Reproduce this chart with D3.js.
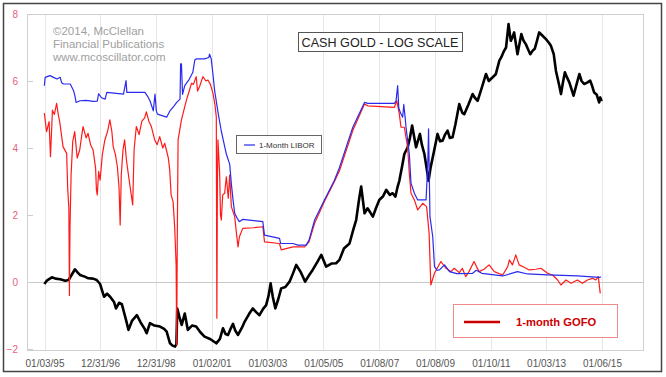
<!DOCTYPE html>
<html>
<head>
<meta charset="utf-8">
<script src="https://cdn.jsdelivr.net/npm/d3@7"></script>
<style>
  body { margin: 0; background: #fff; }
  text { font-family: "Liberation Sans", Arial, sans-serif; }
</style>
</head>
<body>
<div id="chart"></div>
<script>
// tick labels on the x axis (trading dates)
const xTickDates = ['1995-01-03', '1996-12-31', '1998-12-31', '2001-01-02', '2003-01-03',
  '2005-01-05', '2007-01-08', '2009-01-08', '2011-01-10', '2013-01-03', '2015-01-06'];
const yTicks = [-2, 0, 2, 4, 6, 8];

// [decimal year, value]
const goldLog = [
  [1995.00, -0.06], [1995.10, 0.05], [1995.27, 0.14], [1995.40, 0.10], [1995.57, 0.08],
  [1995.75, 0.04], [1995.87, 0.06], [1996.10, 0.38], [1996.20, 0.28], [1996.28, 0.21],
  [1996.45, 0.16], [1996.58, 0.11], [1996.75, 0.10], [1996.88, 0.06], [1997.00, -0.06],
  [1997.14, -0.44], [1997.25, -0.35], [1997.36, -0.44], [1997.50, -0.60], [1997.57, -0.79],
  [1997.68, -0.62], [1997.78, -0.66], [1997.92, -1.10], [1998.02, -1.43], [1998.15, -1.15],
  [1998.32, -0.99], [1998.45, -1.20], [1998.60, -1.40], [1998.67, -1.53], [1998.79, -1.23],
  [1998.95, -1.30], [1999.15, -1.33], [1999.30, -1.40], [1999.39, -1.48], [1999.51, -1.83],
  [1999.60, -1.90], [1999.69, -1.93], [1999.74, -1.85], [1999.77, -0.79], [1999.85, -1.05],
  [1999.93, -1.28], [2000.04, -0.94], [2000.15, -1.43], [2000.30, -1.30], [2000.45, -1.33],
  [2000.60, -1.50], [2000.75, -1.63], [2000.95, -1.70], [2001.17, -1.83], [2001.30, -1.70],
  [2001.41, -1.38], [2001.50, -1.55], [2001.59, -1.58], [2001.68, -1.40], [2001.77, -1.25],
  [2001.85, -1.45], [2001.95, -1.58], [2002.10, -1.35], [2002.19, -1.18], [2002.35, -0.95],
  [2002.48, -0.79], [2002.60, -0.90], [2002.72, -0.99], [2002.85, -0.80], [2002.96, -0.69],
  [2003.05, -0.40], [2003.12, -0.04], [2003.20, -0.45], [2003.29, -0.79], [2003.40, -0.50],
  [2003.50, -0.19], [2003.65, -0.15], [2003.80, 0.01], [2003.92, 0.25], [2004.04, 0.51],
  [2004.20, 0.30], [2004.36, 0.01], [2004.50, 0.20], [2004.63, 0.36], [2004.80, 0.60],
  [2004.94, 0.81], [2005.11, 0.46], [2005.30, 0.55], [2005.47, 0.56], [2005.59, 0.66],
  [2005.75, 1.00], [2005.95, 1.15], [2006.10, 1.60], [2006.19, 1.85], [2006.30, 2.50],
  [2006.37, 2.85], [2006.49, 2.05], [2006.60, 2.20], [2006.79, 1.95], [2006.90, 2.20],
  [2007.02, 2.45], [2007.15, 2.55], [2007.27, 2.75], [2007.40, 2.60], [2007.50, 2.65],
  [2007.60, 2.55], [2007.68, 2.85], [2007.74, 3.02], [2007.85, 3.50], [2007.92, 3.82],
  [2008.04, 4.02], [2008.12, 4.30], [2008.20, 4.67], [2008.34, 4.02], [2008.48, 4.42],
  [2008.55, 4.10], [2008.64, 3.82], [2008.72, 3.40], [2008.79, 3.02], [2008.86, 3.40],
  [2008.94, 3.72], [2009.11, 4.42], [2009.20, 4.20], [2009.29, 4.22], [2009.38, 4.40],
  [2009.47, 4.52], [2009.55, 4.30], [2009.65, 4.32], [2009.75, 4.70], [2009.89, 5.31],
  [2010.00, 5.05], [2010.07, 5.01], [2010.22, 5.30], [2010.37, 5.61], [2010.45, 5.50],
  [2010.55, 5.41], [2010.70, 5.80], [2010.85, 6.21], [2010.95, 6.00], [2011.09, 6.11],
  [2011.20, 6.20], [2011.33, 6.61], [2011.40, 6.71], [2011.50, 6.90], [2011.57, 7.00],
  [2011.66, 7.70], [2011.74, 7.20], [2011.80, 7.30], [2011.86, 7.45], [2011.98, 6.80],
  [2012.05, 7.10], [2012.12, 7.40], [2012.20, 7.20], [2012.28, 7.10], [2012.36, 6.95],
  [2012.44, 6.80], [2012.52, 6.90], [2012.60, 6.96], [2012.68, 7.20], [2012.76, 7.45],
  [2012.88, 7.35], [2013.00, 7.25], [2013.10, 7.15], [2013.18, 7.05], [2013.28, 6.80],
  [2013.36, 6.30], [2013.48, 5.86], [2013.54, 5.61], [2013.62, 6.00], [2013.68, 6.26],
  [2013.76, 6.10], [2013.84, 5.96], [2013.92, 5.75], [2013.99, 5.56], [2014.10, 5.90],
  [2014.20, 6.21], [2014.28, 6.00], [2014.37, 5.91], [2014.48, 5.95], [2014.59, 6.01],
  [2014.66, 5.85], [2014.73, 5.66], [2014.82, 5.60], [2014.91, 5.36], [2014.95, 5.51],
  [2015.00, 5.40]
];

const libor = [
  [1995.00, 5.86], [1995.03, 6.11], [1995.20, 6.16], [1995.35, 6.10], [1995.45, 6.06],
  [1995.57, 6.11], [1995.62, 5.95], [1995.69, 5.91], [1995.93, 5.91], [1996.05, 5.71],
  [1996.10, 5.55], [1996.14, 5.36], [1996.28, 5.41], [1996.50, 5.42], [1996.76, 5.39],
  [1996.90, 5.40], [1996.95, 5.62], [1997.05, 5.50], [1997.18, 5.46], [1997.24, 5.66],
  [1997.84, 5.61], [1997.93, 6.01], [1997.96, 5.66], [1998.61, 5.66], [1998.70, 5.55],
  [1998.79, 5.41], [1998.91, 5.11], [1998.97, 5.61], [1999.02, 5.10], [1999.06, 5.01],
  [1999.39, 4.92], [1999.51, 5.11], [1999.65, 5.25], [1999.75, 5.36], [1999.87, 5.46],
  [1999.89, 6.51], [1999.92, 6.51], [1999.96, 5.60], [2000.04, 5.86], [2000.20, 6.05],
  [2000.33, 6.26], [2000.40, 6.63], [2000.45, 6.66], [2000.75, 6.66], [2000.90, 6.70],
  [2000.93, 6.80], [2000.99, 6.66], [2001.05, 6.20], [2001.11, 5.71], [2001.23, 5.07],
  [2001.35, 4.50], [2001.41, 4.27], [2001.53, 3.82], [2001.65, 3.52], [2001.71, 2.93],
  [2001.77, 2.45], [2001.83, 2.05], [2001.92, 1.90], [2002.00, 1.80], [2002.12, 1.87],
  [2002.84, 1.80], [2002.90, 1.40], [2003.44, 1.30], [2003.48, 1.15], [2003.92, 1.15],
  [2004.10, 1.10], [2004.40, 1.10], [2004.50, 1.25], [2004.70, 1.85], [2005.05, 2.45],
  [2005.41, 3.04], [2005.59, 3.42], [2006.07, 4.62], [2006.49, 5.36], [2006.61, 5.33],
  [2007.56, 5.33], [2007.62, 5.40], [2007.68, 5.86], [2007.72, 5.20], [2007.78, 5.05],
  [2007.86, 4.92], [2007.90, 5.30], [2007.95, 4.90], [2007.98, 4.62], [2008.10, 3.82],
  [2008.16, 2.95], [2008.28, 2.65], [2008.40, 2.45], [2008.70, 2.45], [2008.76, 3.50],
  [2008.79, 4.57], [2008.82, 3.00], [2008.84, 1.95], [2008.94, 1.35], [2009.00, 0.46],
  [2009.10, 0.35], [2009.18, 0.36], [2009.36, 0.51], [2009.54, 0.31], [2009.80, 0.25],
  [2010.37, 0.26], [2010.50, 0.35], [2010.70, 0.26], [2011.15, 0.21], [2011.45, 0.18],
  [2011.98, 0.31], [2012.34, 0.24], [2013.06, 0.21], [2014.13, 0.18], [2014.91, 0.14],
  [2014.98, 0.15]
];

const gofo = [
  [1995.00, 5.04], [1995.08, 4.49], [1995.17, 4.79], [1995.22, 3.74], [1995.29, 5.13],
  [1995.36, 5.00], [1995.44, 5.33], [1995.50, 5.00], [1995.56, 4.74], [1995.67, 4.04],
  [1995.80, 3.84], [1995.84, 2.75], [1995.88, 2.20], [1995.90, -0.40], [1995.92, 1.60],
  [1995.96, 3.20], [1996.02, 4.20], [1996.09, 4.49], [1996.18, 3.70], [1996.27, 3.94],
  [1996.33, 4.30], [1996.39, 4.64], [1996.50, 4.30], [1996.57, 4.44], [1996.66, 4.10],
  [1996.75, 3.94], [1996.84, 3.40], [1996.87, 2.75], [1996.90, 2.60], [1996.95, 3.30],
  [1997.00, 3.04], [1997.08, 3.80], [1997.17, 4.24], [1997.27, 4.50], [1997.35, 4.84],
  [1997.42, 4.50], [1997.47, 4.04], [1997.55, 3.80], [1997.62, 3.44], [1997.68, 2.80],
  [1997.72, 1.70], [1997.76, 3.20], [1997.82, 3.94], [1997.88, 4.24], [1997.95, 3.60],
  [1998.05, 3.00], [1998.17, 2.30], [1998.22, 3.94], [1998.30, 4.64], [1998.40, 4.40],
  [1998.50, 4.80], [1998.60, 4.90], [1998.66, 5.08], [1998.75, 4.80], [1998.84, 4.64],
  [1998.96, 4.24], [1999.05, 4.10], [1999.14, 4.34], [1999.25, 4.00], [1999.32, 4.14],
  [1999.38, 3.94], [1999.45, 3.70], [1999.50, 3.34], [1999.55, 2.60], [1999.62, 2.40],
  [1999.68, 1.60], [1999.73, 0.50], [1999.75, -1.88], [1999.77, 1.20], [1999.80, 4.24],
  [1999.92, 4.84], [2000.10, 5.43], [2000.20, 5.70], [2000.28, 5.93], [2000.35, 5.90],
  [2000.45, 6.13], [2000.50, 5.70], [2000.57, 5.83], [2000.69, 6.13], [2000.80, 6.00],
  [2000.87, 6.03], [2000.96, 5.90], [2001.05, 5.63], [2001.12, 5.30], [2001.17, 4.93],
  [2001.19, -1.08], [2001.21, 3.00], [2001.23, 4.24], [2001.29, 3.24], [2001.32, 2.00],
  [2001.35, 1.85], [2001.40, 2.60], [2001.47, 2.65], [2001.53, 3.14], [2001.60, 2.50],
  [2001.65, 3.19], [2001.71, 2.25], [2001.83, 1.95], [2001.90, 1.40], [2001.95, 1.05],
  [2002.00, 1.35], [2002.12, 1.60], [2002.50, 1.62], [2002.84, 1.65], [2002.90, 1.20],
  [2003.44, 1.15], [2003.50, 0.96], [2003.92, 1.05], [2004.34, 1.05], [2004.50, 1.20],
  [2004.70, 1.75], [2005.05, 2.40], [2005.41, 3.00], [2005.59, 3.32], [2006.07, 4.52],
  [2006.49, 5.31], [2006.61, 5.26], [2007.56, 5.21], [2007.65, 5.41], [2007.74, 5.01],
  [2007.80, 4.62], [2007.92, 4.62], [2008.04, 4.02], [2008.10, 3.22], [2008.16, 2.65],
  [2008.28, 2.45], [2008.40, 2.15], [2008.58, 2.35], [2008.72, 2.25], [2008.81, 1.45],
  [2008.87, -0.09], [2009.00, 0.26], [2009.23, 0.61], [2009.41, 0.41], [2009.59, 0.31],
  [2009.71, 0.41], [2009.89, 0.28], [2010.00, 0.41], [2010.12, 0.16], [2010.24, 0.31],
  [2010.42, 0.61], [2010.60, 0.31], [2010.78, 0.38], [2010.96, 0.51], [2011.15, 0.31],
  [2011.45, 0.21], [2011.63, 0.46], [2011.69, 0.66], [2011.80, 0.51], [2011.92, 0.81],
  [2012.04, 0.51], [2012.22, 0.44], [2012.40, 0.36], [2012.64, 0.38], [2012.82, 0.41],
  [2013.06, 0.26], [2013.24, 0.21], [2013.42, 0.06], [2013.54, -0.09], [2013.72, 0.06],
  [2013.90, -0.04], [2014.13, 0.06], [2014.31, -0.04], [2014.49, 0.06], [2014.67, 0.11],
  [2014.79, 0.06], [2014.88, 0.16], [2014.95, -0.34]
];

const W = 666, H = 377;
const plot = { left: 27, top: 14, right: 643, bottom: 350 };

function yearToDate(y) {
  const yr = Math.floor(y);
  return new Date(new Date(yr, 0, 1).getTime() + (y - yr) * 365.25 * 864e5);
}

const parse = d3.timeParse('%Y-%m-%d');
const tickDates = xTickDates.map(parse);

let svg = d3.select('#chart')
  .append('svg')
  .attr('width', W)
  .attr('height', H);

svg.append('rect')
  .attr('width', W).attr('height', H)
  .style('fill', '#fff');

// outer frame
svg.append('rect')
  .attr('x', 3.5).attr('y', 3.5)
  .attr('width', 658).attr('height', 368)
  .style('fill', 'none')
  .style('stroke', '#444')
  .style('stroke-width', 1.5);

const x = d3.scaleTime()
  .domain([tickDates[0], tickDates[tickDates.length - 1]])
  .range([44.5, 602]);

const y = d3.scaleLinear()
  .domain([-2, 8])
  .range([349, 14]);

// vertical grid
svg.append('g')
  .selectAll('line')
  .data(tickDates)
  .enter()
  .append('line')
  .attr('x1', (d) => Math.round(x(d)) + 0.5)
  .attr('x2', (d) => Math.round(x(d)) + 0.5)
  .attr('y1', plot.top)
  .attr('y2', plot.bottom)
  .style('stroke', '#e6e6e6');

// zero line
svg.append('line')
  .attr('x1', plot.left).attr('x2', plot.right)
  .attr('y1', Math.round(y(0)) + 0.5).attr('y2', Math.round(y(0)) + 0.5)
  .style('stroke', '#c8c8c8');

// plot border
svg.append('rect')
  .attr('x', plot.left + 0.5).attr('y', plot.top + 0.5)
  .attr('width', plot.right - plot.left).attr('height', plot.bottom - plot.top)
  .style('fill', 'none')
  .style('stroke', '#d0d0d0');

// x axis labels
let xAxis = svg.append('g')
  .attr('transform', `translate(0,${plot.bottom})`)
  .call(d3.axisBottom(x).tickValues(tickDates).tickSize(0).tickPadding(10)
    .tickFormat(d3.timeFormat('%m/%d/%y')));
xAxis.select('.domain').remove();
xAxis.selectAll('text')
  .attr('font-size', 10)
  .style('fill', '#555');

// y axis labels
let yAxis = svg.append('g')
  .attr('transform', `translate(${plot.left},0)`)
  .call(d3.axisLeft(y).tickValues(yTicks).tickSize(-6).tickPadding(9));
yAxis.select('.domain').remove();
yAxis.selectAll('line').style('stroke', '#ccc');
yAxis.selectAll('text')
  .attr('font-size', 10)
  .style('fill', '#e8607c');

const line = d3.line()
  .x((d) => x(yearToDate(d[0])))
  .y((d) => y(d[1]));

svg.append('path')
  .datum(goldLog)
  .attr('d', line)
  .style('fill', 'none')
  .style('stroke', '#000')
  .style('stroke-width', 2.6)
  .style('stroke-linejoin', 'round');

svg.append('path')
  .datum(gofo)
  .attr('d', line)
  .style('fill', 'none')
  .style('stroke', '#ff1a1a')
  .style('stroke-width', 1.2)
  .style('stroke-linejoin', 'round');

svg.append('path')
  .datum(libor)
  .attr('d', line)
  .style('fill', 'none')
  .style('stroke', '#2a2aee')
  .style('stroke-width', 1.2)
  .style('stroke-linejoin', 'round');

// copyright text
const credits = ['\u00a92014, McClellan', 'Financial Publications', 'www.mcoscillator.com'];
svg.append('g')
  .selectAll('text')
  .data(credits)
  .enter()
  .append('text')
  .attr('x', 53)
  .attr('y', (d, i) => 35 + i * 13)
  .attr('font-size', 11.5)
  .style('fill', '#a0a0a0')
  .text((d) => d);

// title box
svg.append('rect')
  .attr('x', 298.5).attr('y', 32.5)
  .attr('width', 164).attr('height', 19)
  .style('fill', '#fff')
  .style('stroke', '#555');
svg.append('text')
  .attr('x', 380).attr('y', 46.5)
  .attr('text-anchor', 'middle')
  .attr('font-size', 12.6)
  .style('fill', '#222')
  .text('CASH GOLD - LOG SCALE');

// LIBOR legend
svg.append('rect')
  .attr('x', 236.5).attr('y', 135.5)
  .attr('width', 85).attr('height', 18)
  .style('fill', '#fff')
  .style('stroke', '#666');
svg.append('line')
  .attr('x1', 244).attr('x2', 255)
  .attr('y1', 145).attr('y2', 145)
  .style('stroke', '#2a2aee')
  .style('stroke-width', 1.2);
svg.append('text')
  .attr('x', 259).attr('y', 147.5)
  .attr('font-size', 8)
  .style('fill', '#333')
  .text('1-Month LIBOR');

// GOFO legend
svg.append('rect')
  .attr('x', 453.5).attr('y', 304.5)
  .attr('width', 164).attr('height', 33)
  .style('fill', '#fff')
  .style('stroke', '#ef8a8a');
svg.append('line')
  .attr('x1', 464).attr('x2', 500)
  .attr('y1', 322).attr('y2', 322)
  .style('stroke', '#cc0000')
  .style('stroke-width', 2.5);
svg.append('text')
  .attr('x', 516).attr('y', 325.5)
  .attr('font-size', 11.2)
  .attr('font-weight', 'bold')
  .style('fill', '#cc0000')
  .text('1-month GOFO');
</script>
</body>
</html>
